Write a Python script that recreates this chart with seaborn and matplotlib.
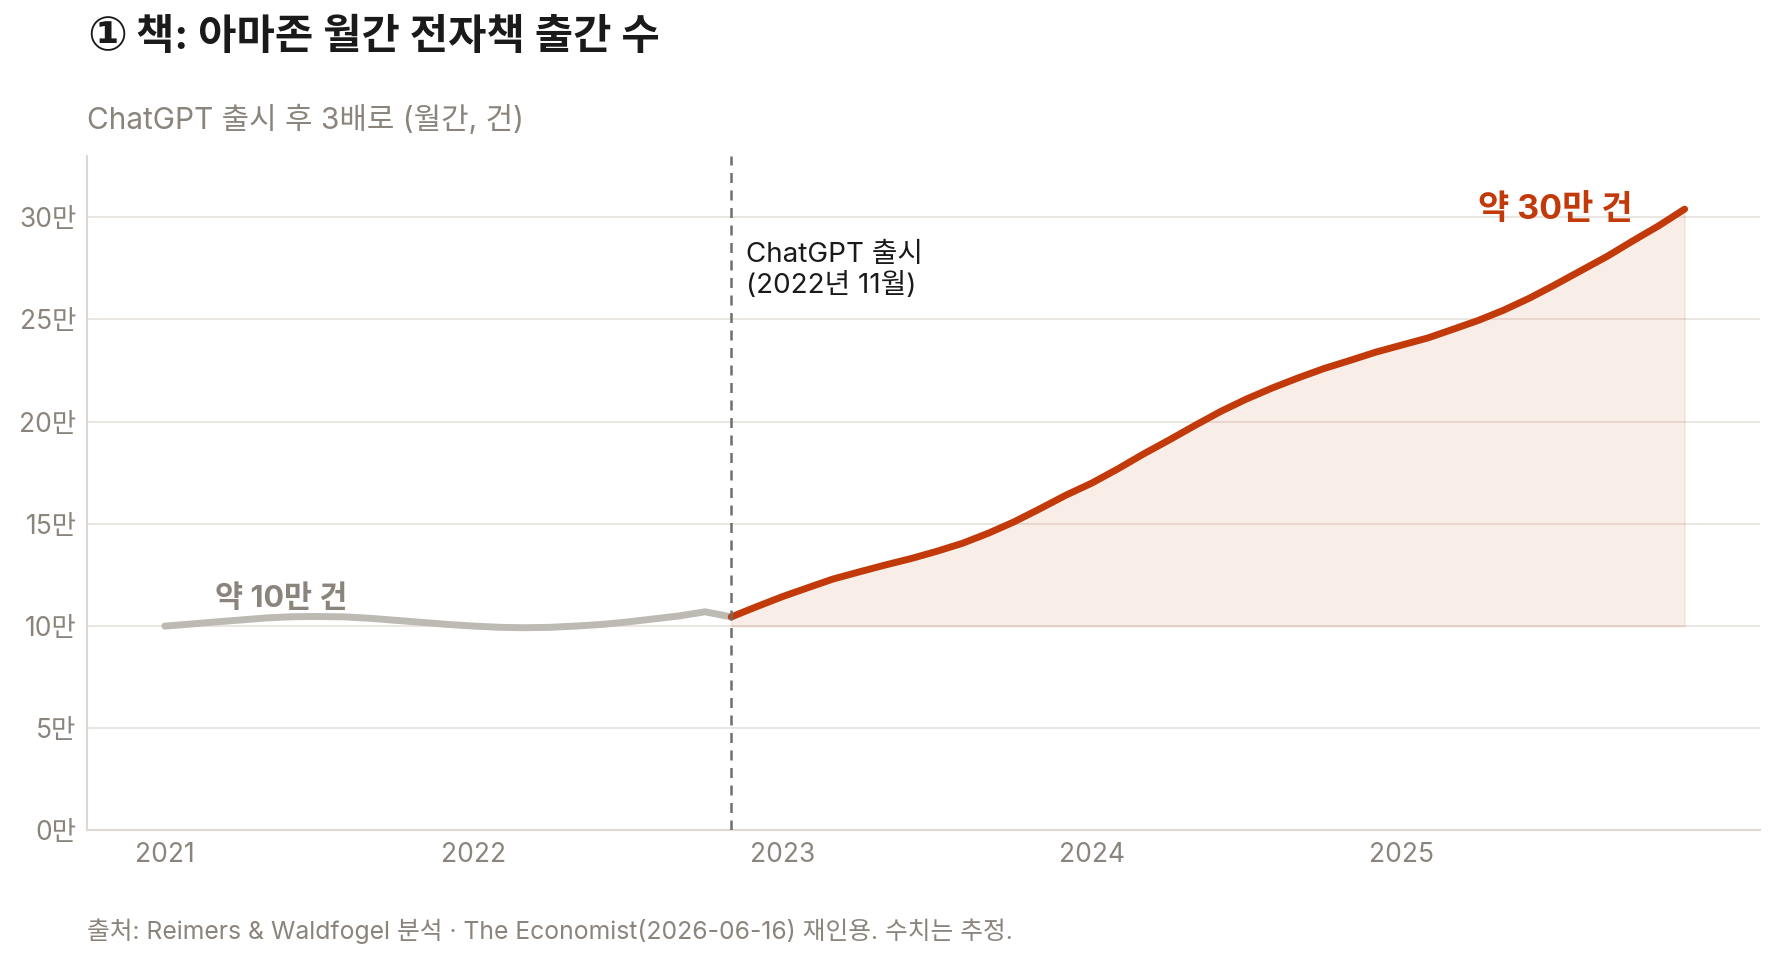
import matplotlib
matplotlib.use("Agg")
import matplotlib.pyplot as plt
import pandas as pd
import seaborn as sns

# ---------------- data (units: 만 건) ----------------
before_start = "2021-01-01"
before_values = [10.00, 10.10, 10.20, 10.30, 10.40, 10.46, 10.47, 10.45, 10.38, 10.28,
                 10.18, 10.08, 10.00, 9.94, 9.92, 9.94, 10.00, 10.08, 10.20, 10.35,
                 10.50, 10.70, 10.45]
after_start = "2022-11-01"
after_values = [10.45, 10.95, 11.45, 11.90, 12.30, 12.65, 12.98, 13.30, 13.65, 14.05,
                14.55, 15.10, 15.75, 16.40, 17.00, 17.70, 18.40, 19.10, 19.80, 20.50,
                21.10, 21.65, 22.15, 22.60, 23.00, 23.40, 23.75, 24.10, 24.50, 24.95,
                25.45, 26.05, 26.70, 27.40, 28.10, 28.85, 29.60, 30.40]
launch_date = "2022-11-01"
baseline = 10
y_ticks = [0, 5, 10, 15, 20, 25, 30]
y_tick_labels = ["0만", "5만", "10만", "15만", "20만", "25만", "30만"]
x_tick_years = [2021, 2022, 2023, 2024, 2025]

title_mark = "①"
title = "책: 아마존 월간 전자책 출간 수"
subtitle = "ChatGPT 출시 후 3배로 (월간, 건)"
footer = "출처: Reimers & Waldfogel 분석 · The Economist(2026-06-16) 재인용. 수치는 추정."
launch_label = "ChatGPT 출시\n(2022년 11월)"
before_label = "약 10만 건"
after_label = "약 30만 건"

# ---------------- style ----------------
RED = "#C23A0A"
GRAY_LINE = "#BDBAB3"
GRAY_TEXT = "#8A847C"
GRID = "#E8E4DE"
SPINE = "#DDD9D2"
DARK = "#1A1A1A"

sns.set_theme(style="white")
plt.rcParams["font.family"] = ["Inter", "Noto Sans CJK KR", "DejaVu Sans"]

df_before = pd.DataFrame({
    "month": pd.date_range(before_start, periods=len(before_values), freq="MS"),
    "value": before_values,
})
df_after = pd.DataFrame({
    "month": pd.date_range(after_start, periods=len(after_values), freq="MS"),
    "value": after_values,
})

fig = plt.figure(figsize=(17.79, 9.64), dpi=100)
ax = fig.add_axes([0.0489, 0.1385, 0.9404, 0.6997])

ax.fill_between(df_after["month"], baseline, df_after["value"], color=RED,
                alpha=0.09, linewidth=1.2, edgecolor=(0.76, 0.23, 0.04, 0.08), zorder=1)
sns.lineplot(data=df_before, x="month", y="value", color=GRAY_LINE, linewidth=5,
             ax=ax, zorder=3)
sns.lineplot(data=df_after, x="month", y="value", color=RED, linewidth=5,
             ax=ax, zorder=4)

ax.axvline(pd.Timestamp(launch_date), color="#6E6E6E", linewidth=1.8,
           linestyle=(0, (4, 3)), zorder=5)

ax.set_ylim(0, 33)
ax.set_xlim(pd.Timestamp("2020-10-01"), pd.Timestamp("2026-02-28"))
ax.set_yticks(y_ticks)
ax.set_yticklabels(y_tick_labels)
ax.set_xticks([pd.Timestamp(f"{y}-01-01") for y in x_tick_years])
ax.set_xticklabels([str(y) for y in x_tick_years])
ax.set_xlabel("")
ax.set_ylabel("")

ax.grid(axis="y", color=GRID, linewidth=1.3, zorder=0)
ax.grid(axis="x", visible=False)
ax.set_axisbelow(True)
for s in ["top", "right"]:
    ax.spines[s].set_visible(False)
for s in ["left", "bottom"]:
    ax.spines[s].set_color(SPINE)
    ax.spines[s].set_linewidth(1.5)
ax.tick_params(axis="both", length=0, labelsize=19, labelcolor=GRAY_TEXT)
ax.tick_params(axis="y", pad=7.5)
ax.tick_params(axis="x", pad=8)

ax.text(pd.Timestamp("2021-03-01"), 11.34, before_label, fontsize=22, fontweight="bold",
        color=GRAY_TEXT, ha="left", va="center", zorder=6)
ax.text(pd.Timestamp("2025-10-01"), 30.35, after_label, fontsize=24.5, fontweight="bold",
        color=RED, ha="right", va="center", zorder=6)
ax.annotate(launch_label, xy=(pd.Timestamp(launch_date), 27.4), xytext=(10.5, 0),
            textcoords="offset points", fontsize=20, color=DARK, ha="left",
            va="center", linespacing=1.2, zorder=6)

fig.text(0.0489, 0.9606, title_mark, fontsize=34, fontweight="bold", color=DARK,
         ha="left", va="center", family=["DejaVu Sans", "Noto Sans CJK KR"])
fig.text(0.0765, 0.9616, title, fontsize=30, fontweight="bold", color=DARK,
         ha="left", va="center")
fig.text(0.0489, 0.876, subtitle, fontsize=21.5, color=GRAY_TEXT, ha="left", va="center")
fig.text(0.0489, 0.0337, footer, fontsize=17.8, color=GRAY_TEXT, ha="left", va="center")

fig.savefig("out.png", dpi=100, facecolor="white")
